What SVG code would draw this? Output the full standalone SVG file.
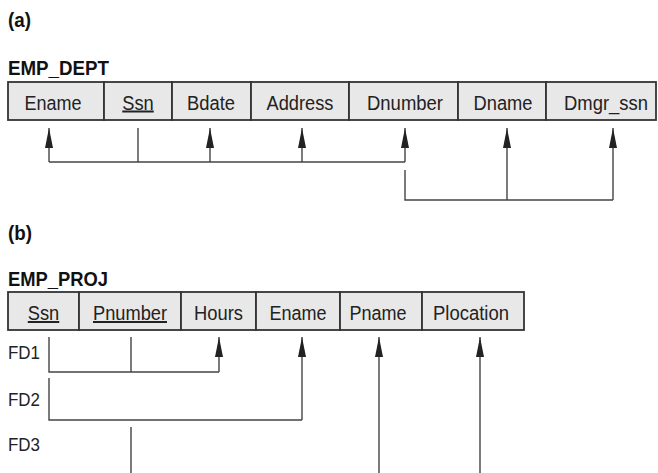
<svg xmlns="http://www.w3.org/2000/svg" width="658" height="473" viewBox="0 0 658 473">
<defs>
<style>
.bg{fill:#ffffff}
.cell{fill:#e8e8e8;stroke:#333333;stroke-width:1.8}
.t{font-family:"Liberation Sans",Arial,sans-serif;font-size:20px;fill:#222222;text-anchor:middle}
.u{text-decoration:underline}
.h{font-family:"Liberation Sans",Arial,sans-serif;font-size:21px;font-weight:bold;fill:#111111}
.fd{font-family:"Liberation Sans",Arial,sans-serif;font-size:19px;fill:#222222}
.ln{fill:none;stroke:#444444;stroke-width:1.4}
.ar{fill:none;stroke:#444444;stroke-width:1.4;marker-end:url(#ah)}
</style>
<marker id="ah" viewBox="0 0 20 8" refX="20" refY="4" markerWidth="20" markerHeight="8" markerUnits="userSpaceOnUse" orient="auto">
<path d="M0,0 L20,4 L0,8 Z" fill="#222222"/>
</marker>
</defs>
<rect class="bg" x="0" y="0" width="658" height="473"/>
<text class="h" x="8" y="27" textLength="23" lengthAdjust="spacingAndGlyphs">(a)</text>
<text class="h" x="8" y="75" textLength="101" lengthAdjust="spacingAndGlyphs">EMP_DEPT</text>
<g id="emp_dept">
<g id="a_ename"><rect class="cell" x="8" y="82" width="96" height="38"/><text class="t" x="53" y="109.5" textLength="57" lengthAdjust="spacingAndGlyphs">Ename</text></g>
<g id="a_ssn"><rect class="cell" x="104" y="82" width="68" height="38"/><text class="t u" x="138" y="109.5" textLength="31.5" lengthAdjust="spacingAndGlyphs">Ssn</text></g>
<g id="a_bdate"><rect class="cell" x="172" y="82" width="79" height="38"/><text class="t" x="211" y="109.5" textLength="48" lengthAdjust="spacingAndGlyphs">Bdate</text></g>
<g id="a_address"><rect class="cell" x="251" y="82" width="98" height="38"/><text class="t" x="300" y="109.5" textLength="67" lengthAdjust="spacingAndGlyphs">Address</text></g>
<g id="a_dnumber"><rect class="cell" x="349" y="82" width="109" height="38"/><text class="t" x="405" y="109.5" textLength="76" lengthAdjust="spacingAndGlyphs">Dnumber</text></g>
<g id="a_dname"><rect class="cell" x="458" y="82" width="88" height="38"/><text class="t" x="503" y="109.5" textLength="59" lengthAdjust="spacingAndGlyphs">Dname</text></g>
<g id="a_dmgr"><rect class="cell" x="546" y="82" width="110" height="38"/><text class="t" x="606" y="109.5" textLength="84" lengthAdjust="spacingAndGlyphs">Dmgr_ssn</text></g>
</g>
<text class="h" x="8" y="240" textLength="24" lengthAdjust="spacingAndGlyphs">(b)</text>
<text class="h" x="8" y="286" textLength="100" lengthAdjust="spacingAndGlyphs">EMP_PROJ</text>
<g id="emp_proj">
<g id="b_ssn"><rect class="cell" x="8" y="292" width="71" height="38"/><text class="t u" x="43.5" y="320" textLength="31.5" lengthAdjust="spacingAndGlyphs">Ssn</text></g>
<g id="b_pnumber"><rect class="cell" x="79" y="292" width="102" height="38"/><text class="t u" x="130" y="320" textLength="74" lengthAdjust="spacingAndGlyphs">Pnumber</text></g>
<g id="b_hours"><rect class="cell" x="181" y="292" width="75" height="38"/><text class="t" x="218.5" y="320" textLength="49" lengthAdjust="spacingAndGlyphs">Hours</text></g>
<g id="b_ename"><rect class="cell" x="256" y="292" width="84" height="38"/><text class="t" x="298" y="320" textLength="57" lengthAdjust="spacingAndGlyphs">Ename</text></g>
<g id="b_pname"><rect class="cell" x="340" y="292" width="82" height="38"/><text class="t" x="378" y="320" textLength="57" lengthAdjust="spacingAndGlyphs">Pname</text></g>
<g id="b_plocation"><rect class="cell" x="422" y="292" width="102" height="38"/><text class="t" x="471" y="320" textLength="76" lengthAdjust="spacingAndGlyphs">Plocation</text></g>
</g>
<g id="fd_labels">
<text class="fd" x="8" y="359" textLength="32" lengthAdjust="spacingAndGlyphs">FD1</text>
<text class="fd" x="8" y="406" textLength="32" lengthAdjust="spacingAndGlyphs">FD2</text>
<text class="fd" x="8" y="451" textLength="32" lengthAdjust="spacingAndGlyphs">FD3</text>
</g>
<g id="connectors">
<path class="ln" d="M49,162 H405"/>
<path class="ar" d="M49,162 V128"/>
<path class="ln" d="M138,162 V128"/>
<path class="ar" d="M210,162 V128"/>
<path class="ar" d="M302,162 V128"/>
<path class="ar" d="M405,162 V128"/>
<path class="ln" d="M405,170 V200 H613"/>
<path class="ar" d="M507,200 V128"/>
<path class="ar" d="M613,200 V128"/>
<path class="ln" d="M49,337 V372 H219"/>
<path class="ln" d="M131,337 V372"/>
<path class="ar" d="M219,372 V337"/>
<path class="ln" d="M49,378 V420 H302"/>
<path class="ar" d="M302,420 V337"/>
<path class="ln" d="M131,427 V473"/>
<path class="ar" d="M379,473 V337"/>
<path class="ar" d="M480,473 V337"/>
</g>
</svg>
